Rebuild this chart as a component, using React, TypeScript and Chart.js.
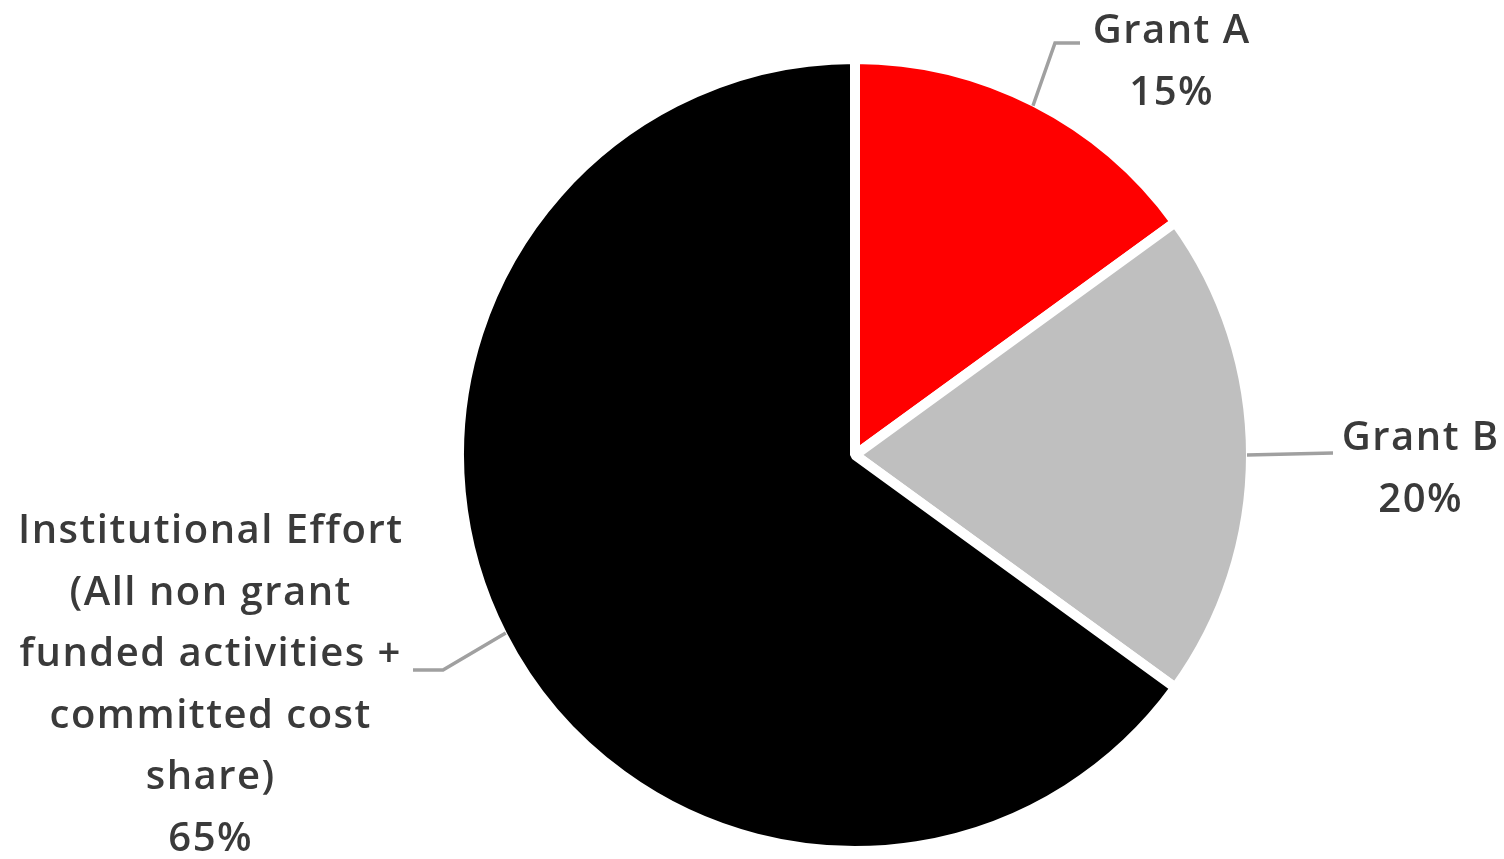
import React, { useEffect, useRef } from "react";
import { Chart, registerables } from "chart.js";

Chart.register(...registerables);

const categories = [
  "Grant A",
  "Grant B",
  "Institutional Effort (All non grant funded activities + committed cost share)",
];
const labelLines = [
  ["Grant A"],
  ["Grant B"],
  ["Institutional Effort", "(All non grant", "funded activities +", "committed cost", "share)"],
];
const values = [15, 20, 65];
const colors = ["#FF0000", "#BFBFBF", "#000000"];

// label layout relative to the pie centre (px)
const labelLayout = [
  { elbow: { dx: 200, dy: -412 }, end: { dx: 225, dy: -412 }, text: { dx: 316, dy: -412 } },
  { elbow: null, end: { dx: 478, dy: -2 }, text: { dx: 565, dy: -5 } },
  { elbow: { dx: -412, dy: 215 }, end: { dx: -442, dy: 215 }, text: { dx: -645, dy: 88 } },
];

const labelPlugin = {
  id: "excelLabels",
  afterDatasetsDraw(chart: any) {
    const ctx = chart.ctx;
    const meta = chart.getDatasetMeta(0);
    const total = values.reduce((a, b) => a + b, 0);
    meta.data.forEach((arc: any, i: number) => {
      const { x, y, startAngle, endAngle, outerRadius } = arc.getProps(
        ["x", "y", "startAngle", "endAngle", "outerRadius"],
        true
      );
      const mid = (startAngle + endAngle) / 2;
      const r = outerRadius - 4;
      const sx = x + Math.cos(mid) * r;
      const sy = y + Math.sin(mid) * r;
      const lay = labelLayout[i];
      ctx.save();
      ctx.strokeStyle = "#A0A0A0";
      ctx.lineWidth = 3.5;
      ctx.beginPath();
      ctx.moveTo(sx, sy);
      if (lay.elbow) ctx.lineTo(x + lay.elbow.dx, y + lay.elbow.dy);
      ctx.lineTo(x + lay.end.dx, y + lay.end.dy);
      ctx.stroke();

      ctx.fillStyle = "#3A3A3A";
      ctx.font = "600 40px 'Open Sans'";
      try {
        (ctx as any).letterSpacing = "1.5px";
      } catch (e) {}
      ctx.textAlign = "center";
      ctx.textBaseline = "alphabetic";
      const lines = [...labelLines[i], Math.round((values[i] / total) * 100) + "%"];
      lines.forEach((t, k) => {
        ctx.fillText(t, x + lay.text.dx + 0.75, y + lay.text.dy + k * 61.5);
      });
      ctx.restore();
    });
  },
};

export default function App() {
  const ref = useRef<HTMLCanvasElement | null>(null);
  useEffect(() => {
    if (!ref.current) return;
    const chart = new Chart(ref.current, {
      type: "pie",
      data: {
        labels: categories,
        datasets: [
          {
            data: values,
            backgroundColor: colors,
            borderColor: "#FFFFFF",
            borderWidth: 10,
          },
        ],
      },
      options: {
        animation: false,
        responsive: true,
        maintainAspectRatio: false,
        layout: { padding: { left: 454, right: 248, top: 54, bottom: 3 } },
        plugins: {
          legend: { display: false },
          tooltip: { enabled: false },
        },
      },
      plugins: [labelPlugin],
    });
    return () => chart.destroy();
  }, []);
  return (
    <div
      style={{
        position: "absolute",
        left: 0,
        top: 0,
        width: 1504,
        height: 859,
        background: "#FFFFFF",
      }}
    >
      <canvas ref={ref} />
    </div>
  );
}
